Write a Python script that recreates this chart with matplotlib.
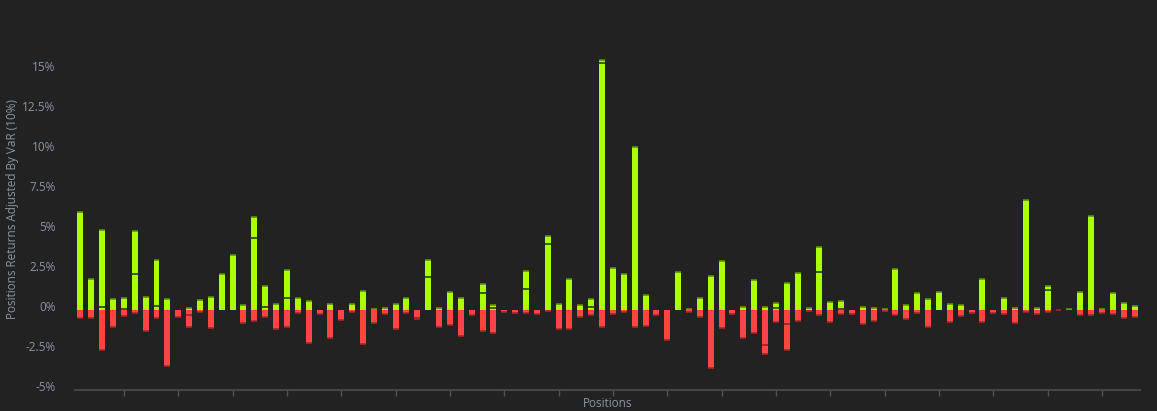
import numpy as np
import matplotlib.pyplot as plt
from matplotlib.ticker import FuncFormatter
from matplotlib.transforms import ScaledTranslation

# gains / losses per position (in %), split = inner segment boundary (0 = no split)
gain_total = [6.12, 1.92, 4.98, 0.67, 0.73, 4.94, 0.79, 3.10, 0.67, 0.0,
              0.10, 0.63, 0.83, 2.25, 3.40, 0.29, 5.79, 1.48, 0.35, 2.52,
              0.77, 0.54, 0.0, 0.375, 0.0, 0.375, 1.19, 0.04, 0.125, 0.35,
              0.75, 0.0, 3.10, 0.125, 1.10, 0.73, 0.0, 1.60, 0.31, 0.0,
              0.0, 2.44, 0.0, 4.625, 0.375, 1.94, 0.29, 0.69, 15.6, 2.60,
              2.25, 10.2, 0.96, 0.0, 0.0, 2.35, 0.06, 0.73, 2.10, 3.04,
              0.0, 0.17, 1.875, 0.17, 0.42, 1.67, 2.33, 0.10, 3.94, 0.48,
              0.54, 0.0, 0.17, 0.10, 0.06, 2.54, 0.29, 1.04, 0.67, 1.10,
              0.375, 0.29, 0.0, 1.90, 0.0, 0.73, 0.10, 6.85, 0.125, 1.48,
              0.0, 0.04, 1.125, 5.85, 0.06, 1.04, 0.42, 0.27]
gain_split = [0, 0, 0.17, 0, 0.04, 2.23, 0, 0.23, 0, 0,
              0, 0, 0, 0, 0, 0, 4.52, 0.19, 0, 0.73,
              0, 0, 0, 0, 0, 0, 0, 0, 0, 0,
              0, 0, 2.04, 0, 0, 0, 0, 1.04, 0.10, 0,
              0, 1.33, 0, 4.10, 0, 0, 0, 0.17, 15.4, 0,
              0, 0, 0, 0, 0, 0, 0, 0, 0, 0,
              0, 0, 0, 0, 0.10, 0, 0, 0, 2.35, 0,
              0.04, 0, 0, 0, 0, 0, 0, 0, 0, 0,
              0, 0, 0, 0, 0, 0, 0, 0, 0, 1.25,
              0, 0, 0, 0, 0, 0, 0, 0]
loss_total = [-0.48, -0.48, -2.52, -1.06, -0.35, -0.17, -1.31, -0.48, -3.48, -0.42,
              -1.04, -0.15, -1.10, 0.0, 0.0, -0.79, -0.67, -0.42, -1.17, -1.08,
              -0.17, -2.06, -0.25, -1.75, -0.65, -0.10, -2.15, -0.81, -0.27, -1.19,
              -0.17, -0.58, 0.0, -1.06, -0.96, -1.60, -0.31, -1.31, -1.42, -0.125,
              -0.17, -0.17, -0.23, -0.04, -1.19, -1.19, -0.44, -0.31, -1.06, -0.25,
              -0.10, -1.06, -1.02, -0.31, -1.875, 0.0, -0.10, -0.44, -3.65, -1.125,
              -0.25, -1.73, -1.42, -2.75, -0.75, -2.5, -0.67, -0.08, -0.31, -0.75,
              -0.25, -0.25, -0.875, -0.71, -0.06, -0.31, -0.56, -0.19, -1.06, 0.0,
              -0.75, -0.375, -0.19, -0.77, -0.17, -0.23, -0.79, -0.15, -0.23, -0.10,
              -0.02, 0.0, -0.29, -0.31, -0.19, -0.25, -0.48, -0.44]
loss_split = [0, 0, 0, 0, 0, 0, 0, 0, 0, 0,
              -0.33, 0, 0, 0, 0, 0, 0, 0, 0, 0,
              0, 0, 0, 0, 0, 0, 0, 0, 0, 0,
              0, -0.50, 0, 0, 0, 0, 0, 0, 0, 0,
              0, 0, 0, 0, 0, 0, 0, 0, 0, 0,
              0, 0, 0, 0, 0, 0, 0, 0, 0, 0,
              0, 0, 0, -2.19, 0, -0.9, 0, 0, 0, 0,
              0, 0, 0, 0, 0, 0, 0, 0, 0, 0,
              0, 0, 0, 0, 0, 0, 0, 0, 0, 0,
              0, 0, 0, 0, 0, 0, 0, 0]

bg = '#222222'
green, green_dark = '#aaff00', '#5f8f00'
red, red_dark = '#ff4444', '#a02a2a'
txt = '#8c96a0'

plt.rcParams['font.family'] = ['Open Sans', 'DejaVu Sans']

x = np.arange(len(gain_total))
gt = np.array(gain_total)
gs = np.array(gain_split)
lt = np.array(loss_total)
ls = np.array(loss_split)
g_low = np.where(gs > 0, gs, gt)
l_low = np.where(ls < 0, ls, lt)

fig = plt.figure(figsize=(11.57, 4.11), dpi=100, facecolor=bg)
ax = fig.add_axes([75/1157, 21/411, 1065/1157, 370/411], facecolor=bg)
w = 0.55

ax.bar(x, g_low, width=w, color=green, linewidth=0)
ax.bar(x, gt - g_low, bottom=g_low, width=w, color=green, linewidth=0)
ax.bar(x, l_low, width=w, color=red, linewidth=0)
ax.bar(x, lt - l_low, bottom=l_low, width=w, color=red, linewidth=0)

# darker edge lines at segment ends
m = gt > 0
ax.hlines(gt[m], x[m] - w/2, x[m] + w/2, color=green_dark, lw=1.2)
m = gs > 0
ax.hlines(gs[m], x[m] - w/2, x[m] + w/2, color='#3d5c00', lw=1.4)
m = lt < 0
ax.hlines(lt[m], x[m] - w/2, x[m] + w/2, color=red_dark, lw=1.2)
m = ls < 0
ax.hlines(ls[m], x[m] - w/2, x[m] + w/2, color=red_dark, lw=1.4)

ax.set_xlim(-0.5, len(x) - 0.5)
ax.set_ylim(-5, 18.1)
ax.set_yticks(np.arange(-5, 15.1, 2.5))
ax.yaxis.set_major_formatter(FuncFormatter(lambda v, p: f'{v:g}%'))
ax.set_xticks(np.arange(4, len(x), 5))
ax.set_xticklabels([])

for s in ['top', 'right', 'left']:
    ax.spines[s].set_visible(False)
ax.spines['bottom'].set_color('#444444')
ax.spines['bottom'].set_linewidth(1.5)
ax.tick_params(axis='y', length=0, pad=14, labelsize=8.5, labelcolor=txt)
ax.tick_params(axis='x', length=4, width=1, color='#555555')
for lab in ax.get_yticklabels():
    lab.set_transform(lab.get_transform() + ScaledTranslation(0, 0.04, fig.dpi_scale_trans))

ax.set_ylabel('Positions Returns Adjusted By VaR (10%)', fontsize=8.5, color=txt)
ax.yaxis.set_label_coords(-0.053, 0.488)
ax.set_xlabel('Positions', fontsize=8.5, color=txt)
ax.xaxis.set_label_coords(0.5, -0.018)

fig.savefig('out.png', dpi=100, facecolor=bg)
